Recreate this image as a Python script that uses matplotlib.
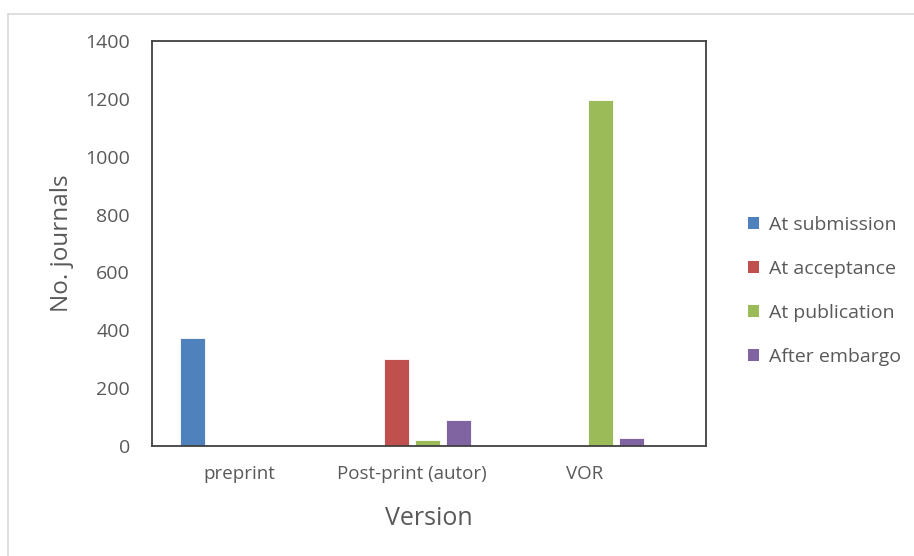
import matplotlib
matplotlib.use("Agg")
import matplotlib.pyplot as plt
import numpy as np
from matplotlib.lines import Line2D
from matplotlib.patches import Patch

categories = ["preprint", "Post-print (autor)", "VOR"]
series = ["At submission", "At acceptance", "At publication", "After embargo"]
at_submission = [375, 0, 0]
at_acceptance = [0, 300, 0]
at_publication = [0, 22, 1197]
after_embargo = [0, 90, 28]
values = [at_submission, at_acceptance, at_publication, after_embargo]
colors = ["#4F81BD", "#C0504D", "#9BBB59", "#8064A2"]
yticks = [0, 200, 400, 600, 800, 1000, 1200, 1400]

plt.rcParams['font.family'] = ['Open Sans', 'DejaVu Sans']
text_color = "#595959"

fig = plt.figure(figsize=(9.14, 5.56), dpi=100)
ax = fig.add_axes([0.1663, 0.1978, 0.6061, 0.7285])

x = np.arange(len(categories))
step = 0.179
width = 0.142
for i, (name, vals, c) in enumerate(zip(series, values, colors)):
    ax.bar(x + (i - 1.5) * step, vals, width=width, color=c, edgecolor="white",
           linewidth=0.6, label=name, zorder=2)

ax.set_xlim(-0.503, 2.70)
ax.set_ylim(0, 1400)
ax.set_yticks(yticks)
ax.set_yticklabels([str(v) for v in yticks])
ax.set_xticks(x)
ax.set_xticklabels(categories)
ax.tick_params(axis='y', length=0, pad=16, labelsize=14, labelcolor=text_color)
ax.tick_params(axis='x', length=0, pad=14, labelsize=13.5, labelcolor=text_color)
for s in ax.spines.values():
    s.set_color("#404040")
    s.set_linewidth(1.3)

ax.set_ylabel("No. journals", fontsize=17.5, color=text_color, labelpad=8)
ax.set_xlabel("Version", fontsize=18, color=text_color, labelpad=16)

handles = [Patch(facecolor=c, edgecolor='none') for c in colors]
leg = fig.legend(handles, series, loc="center left", bbox_to_anchor=(0.7995, 0.477),
                 frameon=False, fontsize=14, handlelength=0.55, handleheight=0.55,
                 handletextpad=0.5, labelspacing=1.33, labelcolor=text_color)

# light chart-area border (top and left)
fig.add_artist(Line2D([8/914, 1.0], [1 - 14/556, 1 - 14/556], transform=fig.transFigure,
                      color="#D9D9D9", linewidth=1.2))
fig.add_artist(Line2D([8/914, 8/914], [0.0, 1 - 14/556], transform=fig.transFigure,
                      color="#D9D9D9", linewidth=1.2))

fig.savefig("out.png", dpi=100)
